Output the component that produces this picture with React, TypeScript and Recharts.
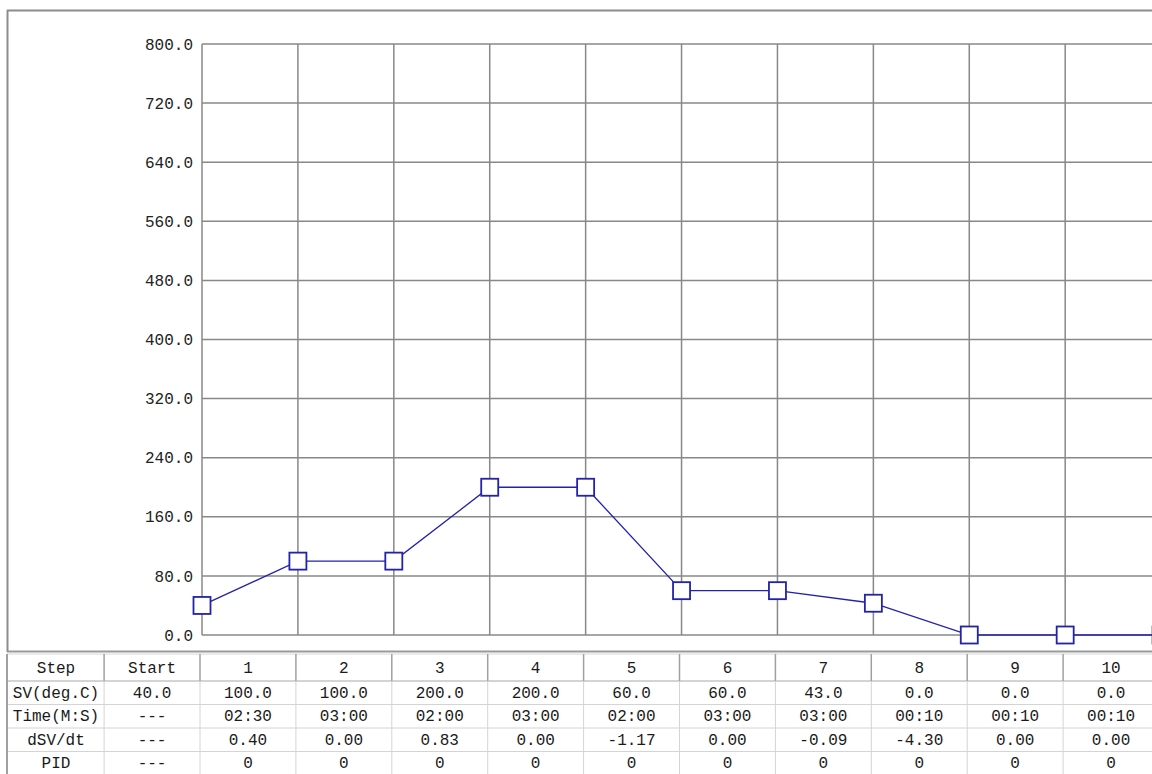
import { LineChart, Line, XAxis, YAxis, CartesianGrid } from 'recharts'

const STEPS = ['Start', '1', '2', '3', '4', '5', '6', '7', '8', '9', '10']
const SV = [40, 100, 100, 200, 200, 60, 60, 43, 0, 0, 0]
const TIMES = ['---', '02:30', '03:00', '02:00', '03:00', '02:00', '03:00', '03:00', '00:10', '00:10', '00:10']
const DSV = ['---', '0.40', '0.00', '0.83', '0.00', '-1.17', '0.00', '-0.09', '-4.30', '0.00', '0.00']
const PID = ['---', '0', '0', '0', '0', '0', '0', '0', '0', '0', '0']
const ROW_LABELS = ['Step', 'SV(deg.C)', 'Time(M:S)', 'dSV/dt', 'PID']
const Y_TICKS = [0, 80, 160, 240, 320, 400, 480, 560, 640, 720, 800]
const X_TICKS = [0, 1, 2, 3, 4, 5, 6, 7, 8, 9, 10, 11]

const FONT = '"Liberation Mono", "DejaVu Sans Mono", monospace'
const BLUE = '#2222aa'
const GRID = '#888888'

// column pitch of the table follows the x spacing of the plot
const COL_W = 95.9
const COL_START = 104.1
const ROW_TOPS = [654, 681, 704.5, 728, 751.5, 775]

const data = STEPS.map((s, i) => ({ idx: i, step: s, sv: SV[i] }))

function SquareDot(props: any) {
  const { cx, cy } = props
  if (cx == null || cy == null) return null
  return (
    <rect
      x={cx - 8.5}
      y={cy - 8.5}
      width={17}
      height={17}
      fill="#fff"
      stroke={BLUE}
      strokeWidth={1.8}
    />
  )
}

function StepTable() {
  const rows = [
    STEPS,
    SV.map((v) => v.toFixed(1)),
    TIMES,
    DSV,
    PID,
  ]
  const edges = [7, ...STEPS.map((_, c) => COL_START + c * COL_W), COL_START + STEPS.length * COL_W]
  return (
    <svg width={1152} height={774} style={{ position: 'absolute', left: 0, top: 0 }}>
      {/* window frame */}
      <line x1={7} y1={10.5} x2={1152} y2={10.5} stroke="#8c8c8c" strokeWidth={2} />
      <line x1={7.5} y1={10} x2={7.5} y2={652} stroke="#8c8c8c" strokeWidth={2} />
      <line x1={7} y1={651.5} x2={1152} y2={651.5} stroke="#9a9a9a" strokeWidth={2} />
      <line x1={7} y1={654} x2={1152} y2={654} stroke="#d8d8d8" strokeWidth={1} />
      {/* row separators */}
      {ROW_TOPS.slice(1, 5).map((y, r) => (
        <line
          key={'r' + r}
          x1={7}
          y1={y}
          x2={1152}
          y2={y}
          stroke={r === 0 ? '#a8a8a8' : '#d4d4d4'}
          strokeWidth={1}
        />
      ))}
      {/* column separators */}
      {edges.map((x, c) => (
        <g key={'c' + c}>
          <line x1={x} y1={654} x2={x} y2={ROW_TOPS[1]} stroke="#a0a0a0" strokeWidth={c === 0 ? 2 : 1.5} />
          <line x1={x} y1={ROW_TOPS[1]} x2={x} y2={774} stroke={c === 0 ? '#a0a0a0' : '#d4d4d4'} strokeWidth={c === 0 ? 2 : 1} />
        </g>
      ))}
      {rows.map((cells, r) => {
        const cy = (ROW_TOPS[r] + ROW_TOPS[r + 1]) / 2 + 1
        return (
          <g key={'t' + r} fontFamily={FONT} fontSize={16} fill="#1a1a1a">
            <text x={56} y={cy} textAnchor="middle" dominantBaseline="central">
              {ROW_LABELS[r]}
            </text>
            {cells.map((t, c) => (
              <text
                key={c}
                x={COL_START + c * COL_W + COL_W / 2}
                y={cy}
                textAnchor="middle"
                dominantBaseline="central"
              >
                {t}
              </text>
            ))}
          </g>
        )
      })}
    </svg>
  )
}

export default function App() {
  return (
    <div
      style={{
        position: 'absolute',
        left: 0,
        top: 0,
        width: 1152,
        height: 774,
        overflow: 'hidden',
        background: '#fff',
      }}
    >
      <StepTable />
      <div style={{ position: 'absolute', left: 0, top: 0 }}>
        <LineChart
          width={1270}
          height={660}
          data={data}
          margin={{ top: 44, right: 13, bottom: 25, left: 0 }}
        >
          <CartesianGrid stroke={GRID} strokeWidth={1.5} />
          <XAxis dataKey="idx" type="number" domain={[0, 11]} ticks={X_TICKS} hide />
          <YAxis
            type="number"
            domain={[0, 800]}
            ticks={Y_TICKS}
            width={202}
            axisLine={false}
            tickLine={false}
            tickSize={0}
            tickMargin={9}
            tickFormatter={(v: number) => v.toFixed(1)}
            tick={{ fill: '#222', fontFamily: FONT, fontSize: 16 }}
            interval={0}
          />
          <Line
            type="linear"
            dataKey="sv"
            stroke={BLUE}
            strokeWidth={1.3}
            dot={<SquareDot />}
            activeDot={false}
            isAnimationActive={false}
          />
        </LineChart>
      </div>
    </div>
  )
}
